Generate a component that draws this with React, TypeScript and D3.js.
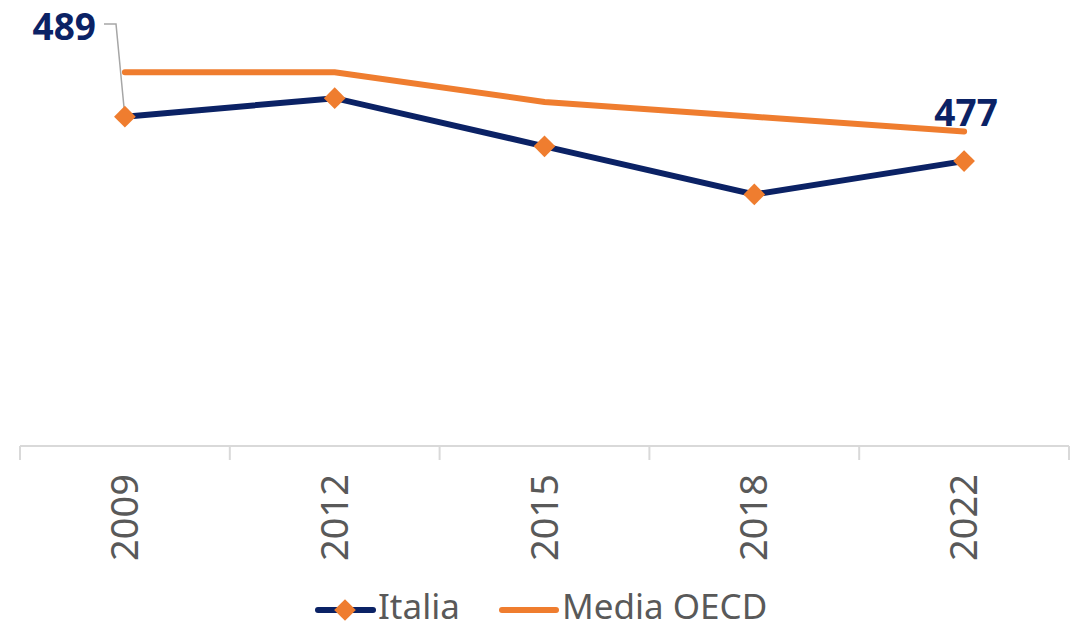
import React, { useEffect, useRef } from 'react';
import * as d3 from 'd3';

const years = ['2009', '2012', '2015', '2018', '2022'];
const italia = [489, 494, 481, 468, 477];
const oecd = [501, 501, 493, 489, 485];

const W = 1079;
const H = 629;
const NAVY = '#0b2265';
const ORANGE = '#ef7d2f';
const FONT = "'Source Sans Pro', 'Noto Sans', sans-serif";

const App = () => {
  const ref = useRef<SVGSVGElement>(null);

  useEffect(() => {
    const svg = d3.select(ref.current);
    svg.selectAll('*').remove();

    const x = d3.scaleBand().domain(years).range([20, 1069]);
    const y = d3.scaleLinear().domain([400, 520]).range([446, 2]);
    const cx = (d: string) => (x(d) as number) + x.bandwidth() / 2;

    // axis line with ticks between categories
    const axis = svg.append('g');
    axis.append('line')
      .attr('x1', 20).attr('x2', 1069)
      .attr('y1', y(400)).attr('y2', y(400))
      .attr('stroke', '#d9d9d9').attr('stroke-width', 2);
    const edges = years.map(d => x(d) as number).concat([1069]);
    axis.selectAll('.tk').data(edges).enter().append('line')
      .attr('x1', d => d).attr('x2', d => d)
      .attr('y1', y(400)).attr('y2', y(400) + 14)
      .attr('stroke', '#d9d9d9').attr('stroke-width', 2);
    axis.selectAll('.lb').data(years).enter().append('text')
      .attr('transform', d => `translate(${cx(d) + 13},${y(400) + 28}) rotate(-90)`)
      .attr('text-anchor', 'end')
      .style('font-family', FONT)
      .style('font-size', '38px')
      .style('fill', '#595959')
      .text(d => d);

    const line = d3.line<number>().x((_, i) => cx(years[i])).y(d => y(d));

    svg.append('path')
      .attr('d', line(oecd))
      .attr('fill', 'none').attr('stroke', ORANGE)
      .attr('stroke-width', 6).attr('stroke-linecap', 'round');

    svg.append('path')
      .attr('d', line(italia))
      .attr('fill', 'none').attr('stroke', NAVY)
      .attr('stroke-width', 6).attr('stroke-linecap', 'round');

    // leader line for first label
    svg.append('polyline')
      .attr('points', `104,24 116,24 ${cx(years[0])},${y(italia[0])}`)
      .attr('fill', 'none').attr('stroke', '#a6a6a6').attr('stroke-width', 1.5);

    const diamond = d3.symbol().type(d3.symbolDiamond2).size(300);
    svg.selectAll('.mk').data(italia).enter().append('path')
      .attr('d', diamond)
      .attr('transform', (d, i) => `translate(${cx(years[i])},${y(d)})`)
      .attr('fill', ORANGE);

    const lbl = (t: string, lx: number, ly: number, anchor: string) =>
      svg.append('text')
        .attr('x', lx).attr('y', ly)
        .attr('text-anchor', anchor)
        .style('font-family', FONT)
        .style('font-size', '37px')
        .style('font-weight', 'bold')
        .style('fill', NAVY)
        .text(t);
    lbl(String(italia[0]), 96, 40, 'end');
    lbl(String(italia[4]), cx(years[4]) + 2, 126, 'middle');

    // legend
    const lg = svg.append('g');
    lg.append('line').attr('x1', 318).attr('x2', 373).attr('y1', 610).attr('y2', 610)
      .attr('stroke', NAVY).attr('stroke-width', 6).attr('stroke-linecap', 'round');
    lg.append('path').attr('d', diamond)
      .attr('transform', 'translate(345,610)').attr('fill', ORANGE);
    lg.append('text').attr('x', 378).attr('y', 619)
      .style('font-family', FONT).style('font-size', '35px').style('fill', '#595959')
      .text('Italia');
    lg.append('line').attr('x1', 502).attr('x2', 556).attr('y1', 610).attr('y2', 610)
      .attr('stroke', ORANGE).attr('stroke-width', 6).attr('stroke-linecap', 'round');
    lg.append('text').attr('x', 562).attr('y', 619)
      .style('font-family', FONT).style('font-size', '35px').style('fill', '#595959')
      .text('Media OECD');
  }, []);

  return (
    <svg ref={ref} width={W} height={H} style={{ position: 'absolute', left: 0, top: 0 }}></svg>
  );
};

export default App;
